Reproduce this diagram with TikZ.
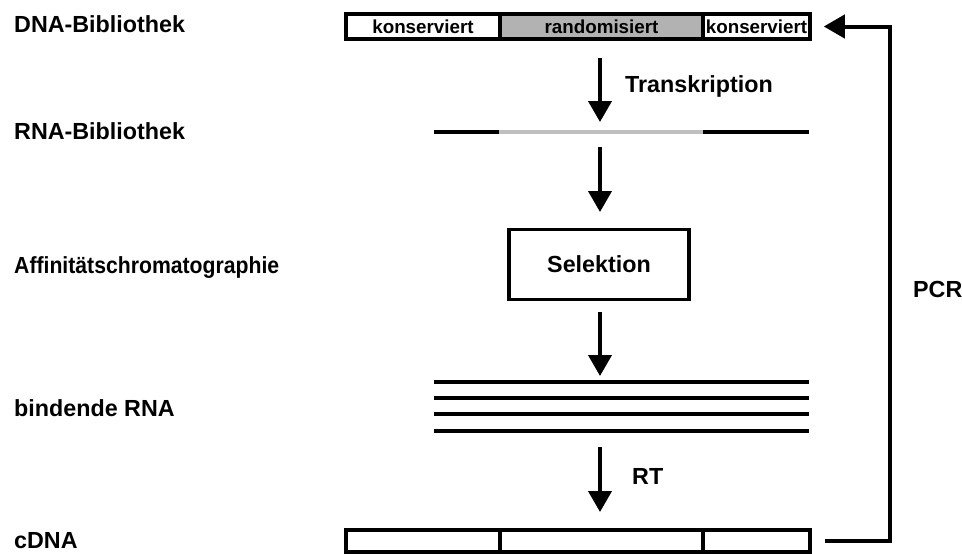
\documentclass[tikz,border=0pt]{standalone}
\usepackage{fontspec}
\setmainfont{Liberation Sans}
\usetikzlibrary{arrows.meta}
\usetikzlibrary{positioning}
\usetikzlibrary{calc}

\begin{document}
\begin{tikzpicture}[x=1pt, y=-1pt,
    every node/.style={inner sep=0pt, font=\bfseries\fontsize{23.3}{26}\selectfont},
    seg/.style={draw, line width=3.5pt, minimum height=25pt, font=\bfseries\fontsize{18.8}{21}\selectfont},
    flow/.style={line width=4pt, -{Triangle[width=23pt, length=21pt]}},
    strand/.style={line width=3.5pt}]

        \useasboundingbox (0,0) rectangle (962,554);

        % labels on the left
        \node[anchor=base west] (ldna) at (14, 32) {DNA-Bibliothek};
        \node[anchor=base west] (lrna) at (14, 139) {RNA-Bibliothek};
        \node[anchor=base west] (laff) at (14, 273) {\scalebox{0.91}[1]{Affinitätschromatographie}};
        \node[anchor=base west] (lbind) at (14, 416) {bindende RNA};
        \node[anchor=base west] (lcdna) at (14, 548) {cDNA};

        % DNA library
        \node[seg, minimum width=154pt] (k1) at (423, 26.5) {konserviert};
        \node[seg, minimum width=203pt, fill=black!30] (r) at (601.5, 26.5) {randomisiert};
        \node[seg, minimum width=107pt] (k2) at (756.5, 26.5) {konserviert};

        % RNA library
        \coordinate (rna1) at (434, 132);
        \coordinate (rna2) at (499, 132);
        \coordinate (rna3) at (703, 132);
        \coordinate (rna4) at (809, 132);
        \draw[strand] (rna1) -- (rna2);
        \draw[strand, black!25] (rna2) -- (rna3);
        \draw[strand] (rna3) -- (rna4);

        % selection
        \node[draw, line width=3.5pt, minimum width=180pt, minimum height=70pt] (sel) at (599, 264.5) {Selektion};

        % binding RNA
        \foreach \y [count=\i] in {382, 398, 414, 431} {
          \coordinate (b\i w) at (434, \y);
          \coordinate (b\i e) at (809, \y);
          \draw[strand] (b\i w) -- (b\i e);
        }

        % cDNA
        \node[seg, minimum width=154pt, minimum height=22pt] (c1) at (423, 541) {};
        \node[seg, minimum width=203pt, minimum height=22pt] (c2) at (601.5, 541) {};
        \node[seg, minimum width=107pt, minimum height=22pt] (c3) at (756.5, 541) {};

        % arrows
        \coordinate (a1s) at (600, 58);
        \coordinate (a1e) at (600, 122);
        \coordinate (a2s) at (600, 147);
        \coordinate (a2e) at (600, 212);
        \coordinate (a3s) at (600, 312);
        \coordinate (a3e) at (600, 376);
        \coordinate (a4s) at (600, 447);
        \coordinate (a4e) at (600, 512);
        \draw[flow] (a1s) -- (a1e);
        \draw[flow] (a2s) -- (a2e);
        \draw[flow] (a3s) -- (a3e);
        \draw[flow] (a4s) -- (a4e);

        \node[anchor=base west] (ltrans) at (625, 92) {Transkription};
        \node[anchor=base west] (lrt) at (632, 484) {RT};

        % PCR loop
        \coordinate (pcrtop) at (890, 26.5);
        \draw[flow] ([xshift=13pt]c3.east) -| (pcrtop) -- ([xshift=12pt]k2.east);
        \node[anchor=base west] (lpcr) at (913, 297) {PCR};

      \end{tikzpicture}
\end{document}
